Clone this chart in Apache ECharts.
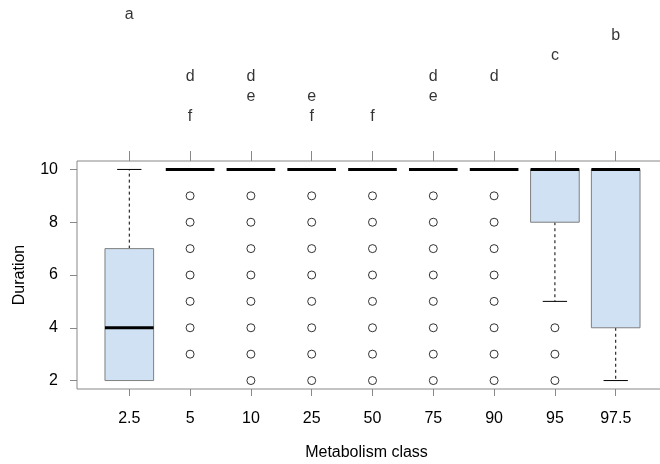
<!DOCTYPE html>
<html>
<head>
<meta charset="utf-8">
<script src="https://cdn.jsdelivr.net/npm/echarts@6/dist/echarts.min.js"></script>
<style>
  html, body { margin: 0; padding: 0; background: #ffffff; }
  #chart { width: 660px; height: 464px; }
</style>
</head>
<body>
<div id="chart"></div>
<script>
// ---- data ----
const categories   = ['2.5', '5', '10', '25', '50', '75', '90', '95', '97.5'];
const whiskerLow   = [2, 10, 10, 10, 10, 10, 10, 5, 2];
const quartile1    = [2, 10, 10, 10, 10, 10, 10, 8, 4];
const medians      = [4, 10, 10, 10, 10, 10, 10, 10, 10];
const quartile3    = [7, 10, 10, 10, 10, 10, 10, 10, 10];
const whiskerHigh  = [10, 10, 10, 10, 10, 10, 10, 10, 10];
const outliers = [
  [],
  [3, 4, 5, 6, 7, 8, 9],
  [2, 3, 4, 5, 6, 7, 8, 9],
  [2, 3, 4, 5, 6, 7, 8, 9],
  [2, 3, 4, 5, 6, 7, 8, 9],
  [2, 3, 4, 5, 6, 7, 8, 9],
  [2, 3, 4, 5, 6, 7, 8, 9],
  [2, 3, 4],
  []
];
const groupLetters = ['a', 'df', 'de', 'ef', 'f', 'de', 'd', 'c', 'b'];
const letterRows   = ['a', 'b', 'c', 'd', 'e', 'f'];
const yTicks       = [2, 4, 6, 8, 10];
const xTicks       = categories.map((c, i) => i + 1);

// ---- build series data ----
const boxData = categories.map((c, i) =>
  [i + 1, whiskerLow[i], quartile1[i], medians[i], quartile3[i], whiskerHigh[i]]);
const outlierData = [];
outliers.forEach((vals, i) => vals.forEach(v => outlierData.push([i + 1, v])));
const letterData = [];
groupLetters.forEach((s, i) => s.split('').forEach(ch => letterData.push([i + 1, ch])));

const FONT = 'Liberation Sans';
const FS = 16;
const GREY = '#888888';
const X_MIN = 0.14, X_MAX = 9.86;

const chart = echarts.init(document.getElementById('chart'), null, { renderer: 'canvas' });

function renderBox(params, api) {
  const x = api.value(0);
  const lo = api.value(1), q1 = api.value(2), md = api.value(3), q3 = api.value(4), hi = api.value(5);
  const band = api.size([1, 0])[0];
  const halfBox = band * 0.4;
  const halfCap = band * 0.2;
  const pLo = api.coord([x, lo]), pQ1 = api.coord([x, q1]), pMd = api.coord([x, md]);
  const pQ3 = api.coord([x, q3]), pHi = api.coord([x, hi]);
  const cx = pMd[0];
  const children = [];
  const dashStyle = { stroke: '#000', lineWidth: 1, lineDash: [3, 3] };
  const capStyle = { stroke: '#000', lineWidth: 1 };
  if (hi > q3) {
    children.push({ type: 'line', shape: { x1: cx, y1: pQ3[1], x2: cx, y2: pHi[1] }, style: dashStyle });
    children.push({ type: 'line', shape: { x1: cx - halfCap, y1: pHi[1], x2: cx + halfCap, y2: pHi[1] }, style: capStyle });
  }
  if (lo < q1) {
    children.push({ type: 'line', shape: { x1: cx, y1: pQ1[1], x2: cx, y2: pLo[1] }, style: dashStyle });
    children.push({ type: 'line', shape: { x1: cx - halfCap, y1: pLo[1], x2: cx + halfCap, y2: pLo[1] }, style: capStyle });
  }
  if (q3 > q1) {
    children.push({
      type: 'rect',
      shape: { x: cx - halfBox, y: pQ3[1], width: 2 * halfBox, height: pQ1[1] - pQ3[1] },
      style: { fill: '#cfe1f2', stroke: '#7f7f7f', lineWidth: 1 }
    });
  }
  children.push({
    type: 'line',
    shape: { x1: cx - halfBox, y1: pMd[1], x2: cx + halfBox, y2: pMd[1] },
    style: { stroke: '#000', lineWidth: 3 }
  });
  return { type: 'group', children };
}

const option = {
  animation: false,
  backgroundColor: '#ffffff',
  textStyle: { fontFamily: FONT },
  grid: [
    { left: 77, top: 161, width: 591, height: 228, show: true, borderColor: GREY, borderWidth: 1,
      backgroundColor: 'transparent', containLabel: false, outerBoundsMode: 'none' },
    { left: 77, top: 15, width: 591, height: 102, show: false, containLabel: false, outerBoundsMode: 'none' }
  ],
  xAxis: [
    {
      gridIndex: 0, type: 'value', position: 'bottom', min: X_MIN, max: X_MAX,
      axisLine: { show: false }, splitLine: { show: false },
      axisTick: { show: true, customValues: xTicks, length: 7, lineStyle: { color: GREY } },
      axisLabel: {
        show: true, customValues: xTicks, margin: 22,
        fontFamily: FONT, fontSize: FS, color: '#000',
        formatter: v => categories[Math.round(v) - 1]
      },
      name: 'Metabolism class', nameLocation: 'middle', nameGap: 56,
      nameTextStyle: { fontFamily: FONT, fontSize: FS, color: '#000', padding: [0, 12, 0, 0] }
    },
    {
      gridIndex: 0, type: 'value', position: 'top', min: X_MIN, max: X_MAX,
      axisLine: { show: false }, splitLine: { show: false },
      axisTick: { show: true, customValues: xTicks, length: 10, lineStyle: { color: GREY } },
      axisLabel: { show: false, customValues: xTicks }
    },
    {
      gridIndex: 1, type: 'value', min: X_MIN, max: X_MAX, show: false
    }
  ],
  yAxis: [
    {
      gridIndex: 0, type: 'value', min: 1.68, max: 10.32,
      axisLine: { show: false }, splitLine: { show: false },
      axisTick: { show: true, customValues: yTicks, length: 7, lineStyle: { color: GREY } },
      axisLabel: { show: true, customValues: yTicks, margin: 19, fontFamily: FONT, fontSize: FS, color: '#000' },
      name: 'Duration', nameLocation: 'middle', nameGap: 49, nameRotate: 90,
      nameTextStyle: { fontFamily: FONT, fontSize: FS, color: '#000' }
    },
    {
      gridIndex: 1, type: 'category', data: letterRows, inverse: true, boundaryGap: false, show: false
    }
  ],
  series: [
    {
      type: 'custom', name: 'boxes', xAxisIndex: 0, yAxisIndex: 0,
      renderItem: renderBox, data: boxData, z: 2
    },
    {
      type: 'scatter', name: 'outliers', xAxisIndex: 0, yAxisIndex: 0,
      symbol: 'circle', symbolSize: 8,
      itemStyle: { color: '#ffffff', borderColor: '#000000', borderWidth: 1 },
      data: outlierData, z: 3
    },
    {
      type: 'scatter', name: 'letters', xAxisIndex: 2, yAxisIndex: 1,
      symbol: 'circle', symbolSize: 1,
      itemStyle: { color: 'transparent' },
      label: {
        show: true, position: 'inside', formatter: p => p.value[1],
        fontFamily: FONT, fontSize: FS, color: '#000'
      },
      data: letterData
    }
  ]
};

chart.setOption(option);
</script>
</body>
</html>
